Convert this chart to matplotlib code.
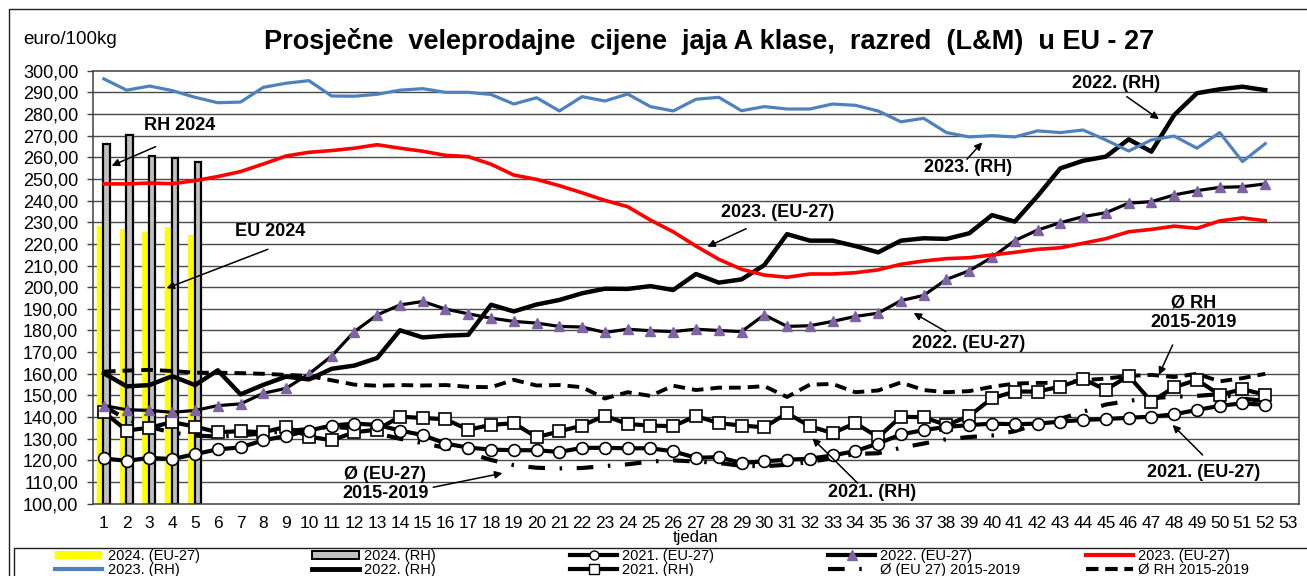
import matplotlib
matplotlib.use("Agg")
import matplotlib.pyplot as plt
from matplotlib.lines import Line2D
from matplotlib.patches import Patch, Rectangle
import numpy as np

plt.rcParams["font.family"] = ["Liberation Sans", "DejaVu Sans"]

weeks = list(range(1, 53))
bar_weeks = [1, 2, 3, 4, 5]
eu_2024 = [228.4, 227.0, 225.5, 227.8, 224.1]
rh_2024 = [266.0, 270.4, 260.6, 259.6, 257.6]

rh_2023 = [296.2, 291.0, 292.9, 290.8, 287.7, 285.2, 285.5, 292.3, 294.2, 295.4,
           288.3, 288.2, 289.1, 291.0, 291.7, 290.0, 290.0, 289.0, 284.6, 287.5,
           281.4, 288.0, 286.0, 289.2, 283.4, 281.4, 286.8, 287.7, 281.5, 283.4,
           282.3, 282.3, 284.6, 284.0, 281.4, 276.4, 278.0, 271.4, 269.4, 270.0,
           269.4, 272.2, 271.4, 272.6, 268.0, 262.9, 268.0, 269.8, 264.2, 271.4,
           258.0, 266.3]
eu_2023 = [247.7, 247.7, 248.1, 247.8, 249.2, 251.1, 253.4, 256.9, 260.6, 262.3,
           263.1, 264.2, 265.8, 264.2, 262.8, 260.9, 260.3, 256.8, 251.8, 249.8,
           246.9, 243.6, 240.1, 237.2, 231.0, 225.6, 219.0, 212.9, 208.3, 205.6,
           204.6, 206.1, 206.1, 206.7, 208.0, 210.6, 212.1, 213.2, 213.6, 214.9,
           216.1, 217.5, 218.2, 220.3, 222.4, 225.6, 226.7, 228.2, 227.2, 230.6,
           232.0, 230.7]
rh_2022 = [160.2, 154.2, 154.8, 158.9, 154.8, 161.6, 150.5, 154.9, 158.7, 157.4,
           162.3, 163.8, 167.3, 180.1, 176.8, 177.6, 178.0, 191.9, 188.8, 192.0,
           194.1, 197.2, 199.3, 199.2, 200.5, 198.7, 206.1, 202.1, 203.6, 210.2,
           224.5, 221.5, 221.5, 219.0, 216.1, 221.5, 222.6, 222.3, 224.9, 233.3,
           230.3, 242.1, 254.9, 258.4, 260.3, 268.3, 262.6, 279.5, 289.6, 291.4,
           292.6, 291.0]
eu_2022 = [145.3, 143.4, 143.1, 142.2, 143.1, 145.3, 146.1, 151.0, 153.3, 159.9,
           168.2, 179.5, 187.2, 191.8, 193.4, 189.9, 187.7, 185.7, 184.2, 183.4,
           181.9, 181.6, 179.1, 180.6, 179.9, 179.5, 180.6, 180.0, 179.5, 187.2,
           181.9, 182.2, 184.2, 186.5, 188.0, 193.8, 196.2, 203.6, 207.6, 213.8,
           221.5, 226.4, 229.8, 232.6, 234.4, 238.8, 239.5, 242.6, 244.6, 246.1,
           246.4, 247.7]
eu_2021 = [120.9, 119.8, 121.2, 120.6, 122.9, 125.1, 126.0, 129.3, 131.3, 133.8,
           136.1, 137.0, 136.4, 133.8, 131.7, 127.8, 125.9, 125.0, 124.7, 124.7,
           123.9, 125.8, 125.8, 125.6, 125.6, 124.2, 121.2, 121.5, 118.8, 119.6,
           120.3, 120.8, 122.3, 124.3, 127.8, 132.0, 134.0, 135.5, 136.3, 137.0,
           136.7, 137.0, 137.9, 138.7, 139.1, 139.7, 140.2, 141.3, 143.3, 145.2,
           146.4, 145.6]
rh_2021 = [142.3, 133.8, 135.1, 137.7, 135.6, 133.0, 133.5, 133.0, 135.5, 131.0,
           129.3, 133.0, 134.2, 140.2, 139.6, 139.0, 134.2, 136.4, 137.2, 130.7,
           133.4, 136.1, 140.6, 136.8, 136.1, 135.8, 140.5, 137.2, 136.1, 135.3,
           141.8, 135.8, 132.6, 137.2, 130.7, 140.2, 139.9, 136.3, 140.5, 148.7,
           151.8, 151.8, 154.1, 157.6, 152.6, 159.1, 147.1, 153.8, 157.2, 150.3,
           152.9, 150.3]
eu_avg_1519 = [145.0, 139.0, 135.5, 132.8, 131.5, 131.0, 131.5, 132.5, 133.5, 134.5,
               135.5, 134.8, 132.5, 130.0, 128.0, 125.8, 123.5, 120.2, 117.8, 116.6,
               116.3, 116.5, 117.4, 118.2, 119.5, 120.0, 119.5, 118.8, 117.5, 117.3,
               118.0, 119.3, 121.0, 123.0, 123.3, 125.8, 127.8, 129.8, 130.8, 131.5,
               133.5, 136.8, 139.2, 142.5, 145.8, 147.5, 148.8, 149.4, 149.8, 150.6,
               148.5, 147.5]
rh_avg_1519 = [161.0, 161.5, 161.8, 161.3, 160.5, 160.5, 160.3, 160.0, 159.5, 159.0,
               157.0, 155.0, 154.5, 154.8, 154.6, 154.8, 154.0, 153.8, 157.2, 154.6,
               154.8, 153.8, 148.6, 151.5, 149.8, 154.5, 152.5, 153.6, 153.6, 154.3,
               149.3, 155.0, 155.3, 151.5, 152.3, 156.0, 152.5, 151.5, 152.0, 154.0,
               155.5, 155.8, 155.8, 157.0, 157.8, 159.0, 159.5, 158.5, 160.0, 156.5,
               158.0, 160.0]

x_ticks = list(range(1, 54))
y_ticks = list(range(100, 301, 10))

BLUE = "#4F81BD"
RED = "#FF0000"
PURPLE = "#7E64A4"
YELLOW = "#FFFF00"
GRAY = "#C0C0C0"

fig = plt.figure(figsize=(13.07, 5.76), dpi=100)
ax = fig.add_axes([0.0708, 0.1255, 0.9234, 0.7518])

# horizontal grid
for v in y_ticks[1:-1]:
    ax.axhline(v, color="#4a4a4a", lw=1.0, zorder=0.5)

bw = np.array(bar_weeks)
ax.bar(bw - 0.19, np.array(eu_2024) - 100, bottom=100, width=0.25,
       color=YELLOW, zorder=2)
ax.bar(bw + 0.12, np.array(rh_2024) - 100, bottom=100, width=0.28,
       color=GRAY, edgecolor="black", linewidth=1.6, zorder=2)

ax.plot(weeks, rh_avg_1519, color="black", lw=2.8, ls=(0, (3, 1.8)), zorder=3)
ax.plot(weeks, eu_avg_1519, color="black", lw=3.0, ls=(0, (4, 3.5, 0.6, 3.5)),
        zorder=3)
ax.plot(weeks, rh_2021, color="black", lw=3.0, marker="s", ms=8.5,
        mfc="white", mec="black", mew=1.2, zorder=4)
ax.plot(weeks, eu_2021, color="black", lw=3.0, marker="o", ms=8.5,
        mfc="white", mec="black", mew=1.2, zorder=4)
ax.plot(weeks, eu_2022, color="black", lw=2.3, marker="^", ms=7.5,
        mfc=PURPLE, mec=PURPLE, zorder=5)
ax.plot(weeks, rh_2022, color="black", lw=3.2, zorder=5)
ax.plot(weeks, eu_2023, color=RED, lw=2.6, zorder=5)
ax.plot(weeks, rh_2023, color=BLUE, lw=2.3, zorder=5)

ax.set_xlim(0.5, 53.5)
ax.set_ylim(100, 300)
ax.set_xticks(x_ticks)
ax.set_xticklabels([str(w) for w in x_ticks])
ax.set_yticks(y_ticks)
ax.set_yticklabels([f"{v},00" for v in y_ticks])
ax.tick_params(axis="x", length=0, pad=9, labelsize=12.5)
ax.tick_params(axis="y", length=4.3, width=1, color="#404040", pad=6,
               labelsize=13)
for s in ax.spines.values():
    s.set_color("#404040")
    s.set_linewidth(1.1)
ax.set_xlabel("tjedan", fontsize=12, labelpad=-1)

# annotations (text + arrow)
bold = dict(fontsize=13, fontweight="bold", ha="center", va="center")
arrow = dict(arrowstyle="-|>", color="black", lw=1.1, mutation_scale=11,
             shrinkA=0, shrinkB=0)
notes = [
    ("RH 2024", (4.34, 274.5), (3.27, 264.9), (1.34, 256.1)),
    ("EU 2024", (8.32, 225.5), (8.2, 217.5), (3.75, 199.5)),
    ("2023. (EU-27)", (30.58, 234.3), (29.2, 227.0), (27.5, 218.7)),
    ("2022. (RH)", (45.44, 294.3), (45.92, 288.0), (47.33, 277.6)),
    ("2023. (RH)", (38.95, 255.1), (38.9, 259.1), (39.57, 266.9)),
    ("2022. (EU-27)", (38.98, 173.8), (37.97, 179.5), (36.56, 188.1)),
    ("Ø RH\n2015-2019", (48.87, 188.1), (47.93, 173.3), (47.33, 159.5)),
    ("2021. (EU-27)", (49.31, 114.2), (49.25, 122.5), (47.93, 136.4)),
    ("2021. (RH)", (34.74, 105.0), (34.1, 109.5), (32.11, 130.2)),
    ("Ø (EU-27)\n2015-2019", (13.35, 109.1), (15.46, 107.6), (18.5, 114.1)),
]
for label, txt_xy, tail, head in notes:
    ax.text(*txt_xy, label, linespacing=1.15, zorder=6, **bold)
    ax.annotate("", xy=head, xytext=tail, arrowprops=arrow, zorder=6)

fig.text(0.5425, 1 - 49 / 576, "Prosječne  veleprodajne  cijene  jaja A klase,  razred  (L&M)  u EU - 27",
         fontsize=19.5, fontweight="bold", ha="center", va="baseline")
fig.text(23 / 1307, 1 - 44 / 576, "euro/100kg", fontsize=13.5, ha="left",
         va="baseline")

# outer chart border and legend box
fig.add_artist(Rectangle((9 / 1307, -0.1), 1.2, 1 - 9 / 576 + 0.1,
                         transform=fig.transFigure, fill=False,
                         edgecolor="#202020", lw=1.0))
fig.add_artist(Rectangle((14 / 1307, -0.1), 1.2, 1 - 548 / 576 + 0.1,
                         transform=fig.transFigure, fill=False,
                         edgecolor="#202020", lw=1.0))

legend_cols = [
    [(Patch(facecolor=YELLOW, edgecolor="none"), "2024. (EU-27)"),
     (Line2D([], [], color=BLUE, lw=3), "2023. (RH)")],
    [(Patch(facecolor=GRAY, edgecolor="black", lw=1.4), "2024. (RH)"),
     (Line2D([], [], color="black", lw=3.5), "2022. (RH)")],
    [(Line2D([], [], color="black", lw=3, marker="o", ms=6.5, mfc="white",
             mec="black"), "2021. (EU-27)"),
     (Line2D([], [], color="black", lw=3, marker="s", ms=6.5, mfc="white",
             mec="black"), "2021. (RH)")],
    [(Line2D([], [], color="black", lw=3, marker="^", ms=7, mfc=PURPLE,
             mec=PURPLE), "2022. (EU-27)"),
     (Line2D([], [], color="black", lw=3, ls=(0, (4, 3.5, 0.6, 3.5))),
      "Ø (EU 27) 2015-2019")],
    [(Line2D([], [], color=RED, lw=3), "2023. (EU-27)"),
     (Line2D([], [], color="black", lw=3, ls=(0, (3, 1.6))), "Ø RH 2015-2019")],
]
col_x = [55, 312, 570, 828, 1086]
for cx, entries in zip(col_x, legend_cols):
    handles, labels = zip(*entries)
    fig.legend(handles, labels, loc="upper left",
               bbox_to_anchor=(cx / 1307, 1 - 549 / 576), frameon=False,
               fontsize=10.5, handlelength=3.25, handleheight=0.45,
               handletextpad=0.35, borderpad=0, borderaxespad=0,
               labelspacing=0.0, numpoints=1)

fig.savefig("out.png", dpi=100)
